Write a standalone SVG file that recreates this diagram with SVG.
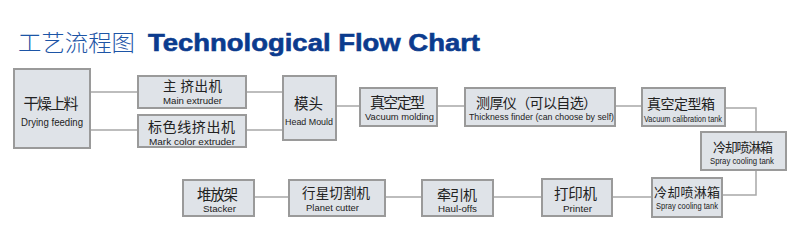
<svg xmlns="http://www.w3.org/2000/svg" width="800" height="237" viewBox="0 0 800 237">
<style>
.box{fill:#dfe3e8;stroke:#9a9a9a;stroke-width:2}
.zh{font-family:"Noto Sans CJK SC","Noto Sans CJK JP",sans-serif;fill:#222;text-anchor:middle}
.en{font-family:"Liberation Sans",Arial,sans-serif;fill:#222;text-anchor:middle}
.ln{fill:none;stroke:#a8a8a8;stroke-width:1.5}
</style>
<rect width="800" height="237" fill="#fff"/>
<text x="18" y="51" font-family="Noto Sans CJK SC,sans-serif" font-size="23" font-weight="300" fill="#1d55a6" textLength="117" lengthAdjust="spacingAndGlyphs">工艺流程图</text>
<text x="148" y="51" font-family="Liberation Sans,Arial,sans-serif" font-size="24" font-weight="bold" fill="#0b3b8e" textLength="332" lengthAdjust="spacingAndGlyphs" stroke="#0b3b8e" stroke-width="0.6">Technological Flow Chart</text>
<g id="connectors">
<path class="ln" d="M90 92H138M90 130H138M246 92H283M246 130H283M336 106H360M437 106H465M615 106H642M725 108H756V132M756 170V195H722M652 197H612M542 197H493M422 197H385M289 197H254"/>
</g>
<g id="n1"><rect class="box" x="14" y="69" width="76" height="79"/><text class="zh" x="51" y="109" font-size="15" textLength="55">干燥上料</text><text class="en" x="52" y="126" font-size="10" textLength="62" lengthAdjust="spacingAndGlyphs">Drying feeding</text></g>
<g id="n2"><rect class="box" x="138" y="76" width="108" height="32"/><text class="zh" x="192.5" y="91" font-size="13.5" textLength="59">主 挤出机</text><text class="en" x="192.5" y="104" font-size="9" textLength="59" lengthAdjust="spacingAndGlyphs">Main extruder</text></g>
<g id="n3"><rect class="box" x="138" y="115" width="108" height="32"/><text class="zh" x="191.5" y="132" font-size="14" textLength="87">标色线挤出机</text><text class="en" x="192" y="145" font-size="9" textLength="86" lengthAdjust="spacingAndGlyphs">Mark color extruder</text></g>
<g id="n4"><rect class="box" x="283" y="76" width="53" height="64"/><text class="zh" x="308.5" y="109" font-size="14.5" textLength="29">模头</text><text class="en" x="309" y="125" font-size="9.5" textLength="48" lengthAdjust="spacingAndGlyphs">Head Mould</text></g>
<g id="n5"><rect class="box" x="360" y="88" width="77" height="38"/><text class="zh" x="397.5" y="108" font-size="15" textLength="55">真空定型</text><text class="en" x="399.5" y="120" font-size="9.5" textLength="69" lengthAdjust="spacingAndGlyphs">Vacuum molding</text></g>
<g id="n6"><rect class="box" x="465" y="88" width="150" height="38"/><text class="zh" x="536.5" y="108" font-size="14" textLength="121">测厚仪（可以自选）</text><text class="en" x="541.5" y="120" font-size="9.5" textLength="145" lengthAdjust="spacingAndGlyphs">Thickness finder (can choose by self)</text></g>
<g id="n7"><rect class="box" x="642" y="88" width="83" height="38"/><text class="zh" x="681" y="109" font-size="14" textLength="68">真空定型箱</text><text class="en" x="683" y="122" font-size="8.5" textLength="78" lengthAdjust="spacingAndGlyphs">Vacuum calibration tank</text></g>
<g id="n8"><rect class="box" x="701" y="132" width="85" height="38"/><text class="zh" x="743" y="152" font-size="13" textLength="60">冷却喷淋箱</text><text class="en" x="742" y="164" font-size="9" textLength="64" lengthAdjust="spacingAndGlyphs">Spray cooling tank</text></g>
<g id="n9"><rect class="box" x="652" y="178" width="70" height="39"/><text class="zh" x="687" y="197" font-size="13" textLength="66">冷却喷淋箱</text><text class="en" x="687" y="209" font-size="8.5" textLength="62" lengthAdjust="spacingAndGlyphs">Spray cooling tank</text></g>
<g id="n10"><rect class="box" x="542" y="179" width="70" height="37"/><text class="zh" x="575.5" y="199" font-size="14.5" textLength="43">打印机</text><text class="en" x="577.5" y="212" font-size="9.5" textLength="29" lengthAdjust="spacingAndGlyphs">Printer</text></g>
<g id="n11"><rect class="box" x="422" y="180" width="71" height="36"/><text class="zh" x="457" y="200" font-size="14" textLength="40">牵引机</text><text class="en" x="457.5" y="212" font-size="9.5" textLength="39" lengthAdjust="spacingAndGlyphs">Haul-offs</text></g>
<g id="n12"><rect class="box" x="289" y="180" width="96" height="36"/><text class="zh" x="336" y="198" font-size="13.5" textLength="68">行星切割机</text><text class="en" x="332.5" y="211" font-size="9" textLength="53" lengthAdjust="spacingAndGlyphs">Planet cutter</text></g>
<g id="n13"><rect class="box" x="183" y="180" width="71" height="36"/><text class="zh" x="217.5" y="200" font-size="14.5" textLength="41">堆放架</text><text class="en" x="219.5" y="212" font-size="9.5" textLength="33" lengthAdjust="spacingAndGlyphs">Stacker</text></g>
</svg>
